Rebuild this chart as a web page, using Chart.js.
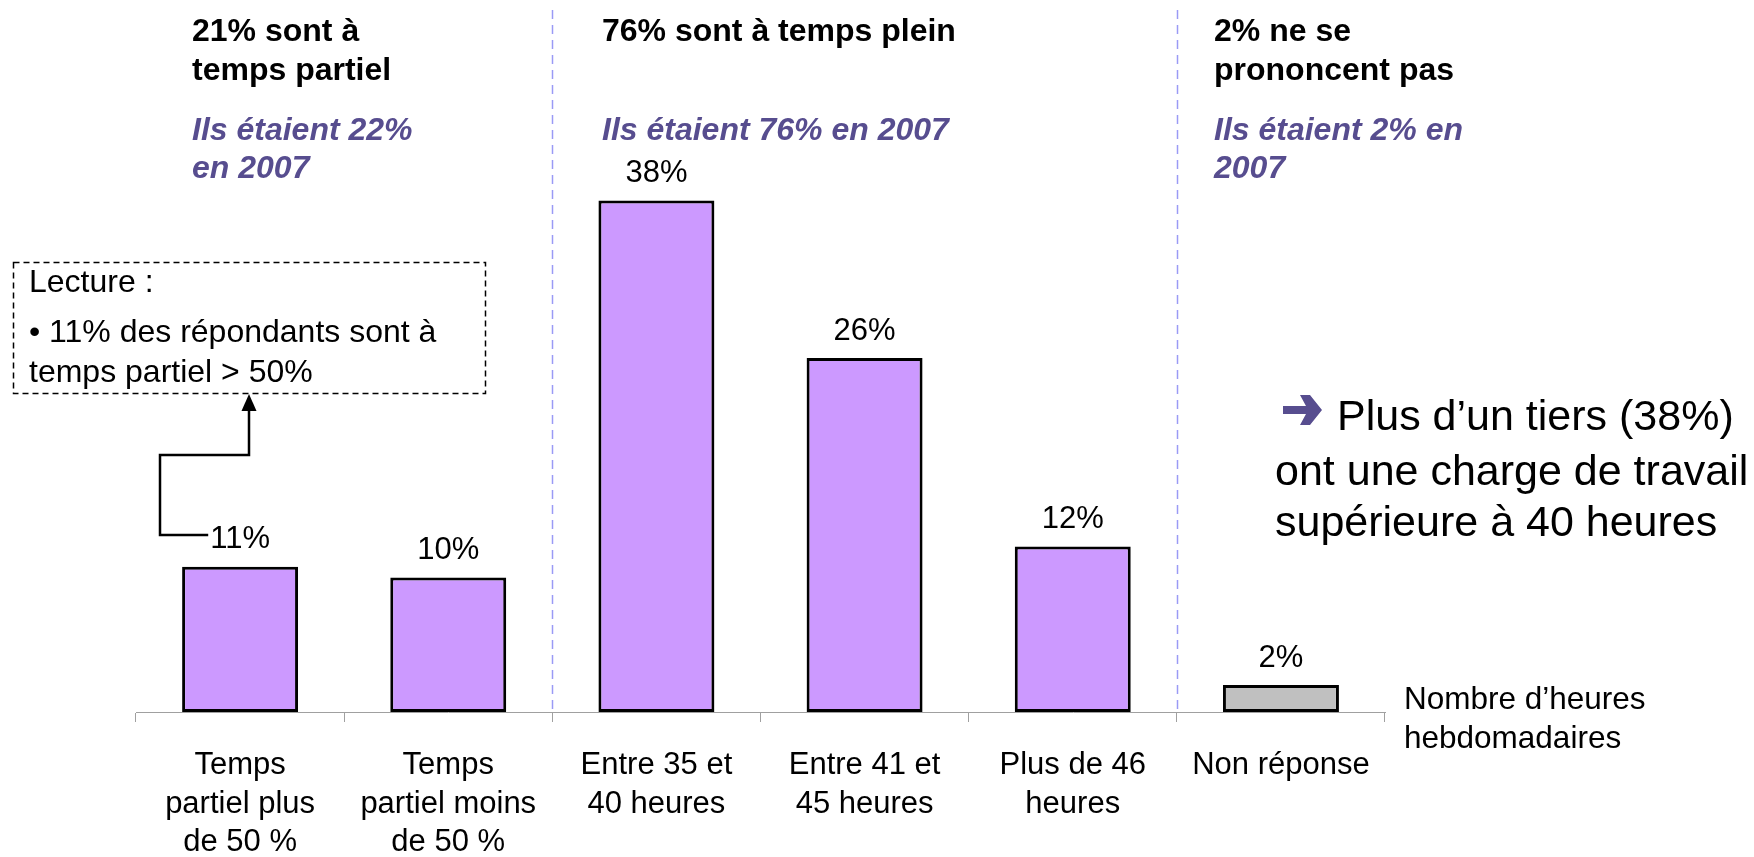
<!DOCTYPE html>
<html>
<head>
<meta charset="utf-8">
<script src="https://cdn.jsdelivr.net/npm/chart.js@4/dist/chart.umd.min.js"></script>
<style>
  body { margin: 0; background: #fff; }
  #wrap { width: 1754px; height: 857px; }
</style>
</head>
<body>
<div id="wrap"><canvas id="hoursChart" width="1754" height="857"></canvas></div>
<script>
const categories = [
  ["Temps", "partiel plus", "de 50 %"],
  ["Temps", "partiel moins", "de 50 %"],
  ["Entre 35 et", "40 heures"],
  ["Entre 41 et", "45 heures"],
  ["Plus de 46", "heures"],
  ["Non réponse"],
];
const values = [10.8, 10, 38, 26.3, 12.3, 2];
const valueLabels = ["11%", "10%", "38%", "26%", "12%", "2%"];
const barColors = ["#CC99FF", "#CC99FF", "#CC99FF", "#CC99FF", "#CC99FF", "#C0C0C0"];

const groupHeaders = [
  { x: 192, title: ["21% sont à", "temps partiel"], past: ["Ils étaient 22%", "en 2007"] },
  { x: 602, title: ["76% sont à temps plein"], past: ["Ils étaient 76% en 2007"] },
  { x: 1214, title: ["2% ne se", "prononcent pas"], past: ["Ils étaient 2% en", "2007"] },
];
// separators sit between these category indexes
const groupBreaks = [1, 4];

const FONT = "'Liberation Sans', Arial, Helvetica, sans-serif";
const PURPLE = "#574D8F";

const barLabels = {
  id: "barLabels",
  afterDatasetsDraw(chart) {
    const ctx = chart.ctx;
    const bars = chart.getDatasetMeta(0).data;
    ctx.save();
    ctx.font = "31px " + FONT;
    ctx.fillStyle = "#000";
    ctx.textAlign = "center";
    ctx.textBaseline = "middle";
    bars.forEach((bar, i) => {
      ctx.fillText(valueLabels[i], bar.x, bar.y - 27);
    });
    ctx.restore();
  },
};

const annotations = {
  id: "annotations",
  beforeDatasetsDraw(chart) {
    const ctx = chart.ctx;
    const xs = chart.scales.x;
    const area = chart.chartArea;
    ctx.save();
    ctx.strokeStyle = "#9A9AF5";
    ctx.lineWidth = 1.5;
    ctx.setLineDash([9, 6]);
    groupBreaks.forEach((i) => {
      const x = Math.round((xs.getPixelForValue(i) + xs.getPixelForValue(i + 1)) / 2) + 0.5;
      ctx.beginPath();
      ctx.moveTo(x, 10);
      ctx.lineTo(x, area.bottom);
      ctx.stroke();
    });
    ctx.restore();
  },
  afterDraw(chart) {
    const ctx = chart.ctx;
    ctx.save();
    ctx.textBaseline = "middle";
    ctx.textAlign = "left";

    // group headers
    groupHeaders.forEach((g) => {
      ctx.font = "bold 32px " + FONT;
      ctx.fillStyle = "#000";
      g.title.forEach((t, k) => ctx.fillText(t, g.x, 32 + k * 39));
      ctx.font = "italic bold 32px " + FONT;
      ctx.fillStyle = PURPLE;
      g.past.forEach((t, k) => ctx.fillText(t, g.x, 131 + k * 38));
    });

    // reading box
    ctx.strokeStyle = "#000";
    ctx.lineWidth = 1.5;
    ctx.setLineDash([6, 4]);
    ctx.strokeRect(13.5, 262.5, 472, 131);
    ctx.setLineDash([]);
    ctx.font = "32px " + FONT;
    ctx.fillStyle = "#000";
    ctx.fillText("Lecture :", 29, 283);
    ctx.fillText("• 11% des répondants sont à", 29, 333);
    ctx.fillText("temps partiel > 50%", 29, 373);

    // callout from the first bar label to the box
    const first = chart.getDatasetMeta(0).data[0];
    const ly = Math.round(first.y - 32);
    ctx.font = "31px " + FONT;
    const lx = first.x - ctx.measureText(valueLabels[0]).width / 2 - 2;
    ctx.lineWidth = 2.5;
    ctx.beginPath();
    ctx.moveTo(lx, ly);
    ctx.lineTo(160, ly);
    ctx.lineTo(160, 455);
    ctx.lineTo(249, 455);
    ctx.lineTo(249, 408);
    ctx.stroke();
    ctx.beginPath();
    ctx.moveTo(249, 394);
    ctx.lineTo(241.5, 411);
    ctx.lineTo(256.5, 411);
    ctx.closePath();
    ctx.fill();

    // conclusion arrow and text
    ctx.fillStyle = PURPLE;
    ctx.beginPath();
    ctx.moveTo(1283, 406);
    ctx.lineTo(1306, 406);
    ctx.lineTo(1300, 395);
    ctx.lineTo(1310, 395);
    ctx.lineTo(1322, 410);
    ctx.lineTo(1310, 425);
    ctx.lineTo(1300, 425);
    ctx.lineTo(1306, 414);
    ctx.lineTo(1283, 414);
    ctx.closePath();
    ctx.fill();
    ctx.font = "43px " + FONT;
    ctx.fillStyle = "#000";
    ctx.fillText("Plus d’un tiers (38%)", 1337, 418);
    ctx.fillText("ont une charge de travail", 1275, 473);
    ctx.fillText("supérieure à 40 heures", 1275, 524);

    // axis caption
    ctx.font = "31.5px " + FONT;
    ctx.fillText("Nombre d’heures", 1404, 700);
    ctx.fillText("hebdomadaires", 1404, 739);
    ctx.restore();
  },
};

function renderChart() {
  const ctx = document.getElementById("hoursChart").getContext("2d");

  new Chart(ctx, {
    type: "bar",
    data: {
      labels: categories,
      datasets: [
        {
          data: values,
          backgroundColor: barColors,
          borderColor: "#000",
          borderWidth: 3,
          borderSkipped: false,
          barPercentage: 0.557,
          categoryPercentage: 1,
        },
      ],
    },
    options: {
      responsive: false,
      animation: false,
      layout: { padding: { left: 136, right: 369, top: 39, bottom: 0 } },
      plugins: {
        legend: { display: false },
        tooltip: { enabled: false },
      },
      scales: {
        y: { display: false, min: 0, max: 50 },
        x: {
          afterFit(scale) {
            scale.height = 145;
          },
          border: { color: "#A0A0A0", width: 1 },
          grid: {
            offset: true,
            drawOnChartArea: false,
            drawTicks: true,
            tickLength: 10,
            color: "#A0A0A0",
          },
          ticks: {
            color: "#000",
            font: { family: FONT, size: 31, lineHeight: 1.25 },
            padding: 24,
            maxRotation: 0,
            autoSkip: false,
          },
        },
      },
    },
    plugins: [annotations, barLabels],
  });
}

renderChart();
</script>
</body>
</html>
